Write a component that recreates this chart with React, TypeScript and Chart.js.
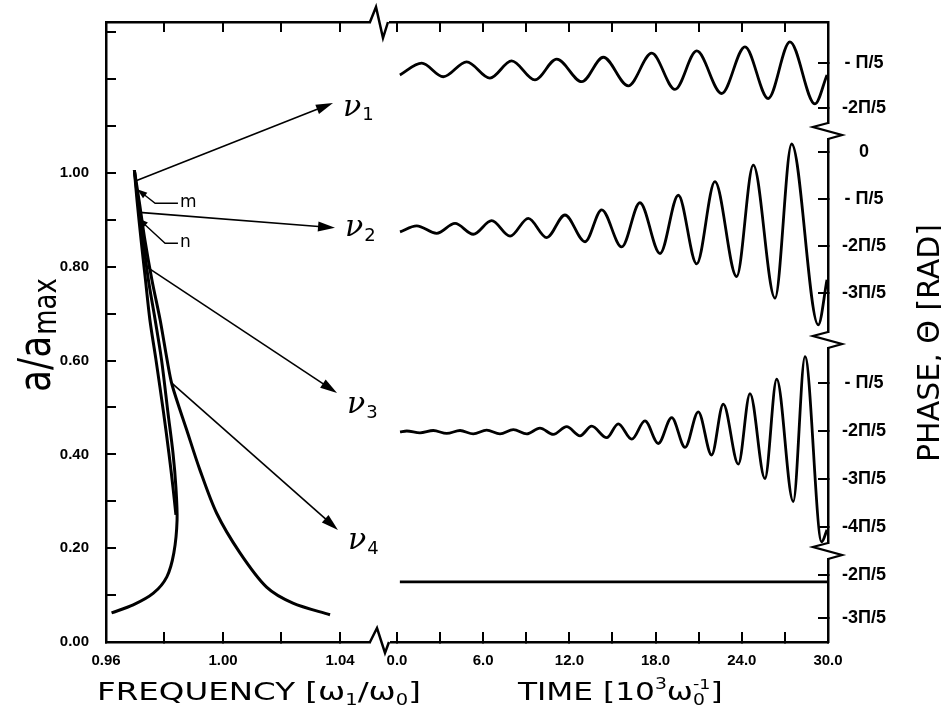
import React, { useEffect, useRef } from 'react';
import { Chart, registerables } from 'chart.js';

Chart.register(...registerables);

// ---------- Left panel: a/a_max versus frequency w1/w0 ----------
// outer (thick) branch, drawn from the low-amplitude end up to the peak
const branchFreq = [0.9619, 0.9693, 0.9762, 0.9808, 0.9832, 0.9843, 0.9839, 0.9829, 0.9812, 0.9790, 0.9768, 0.9745, 0.9727, 0.9709, 0.9697];
const branchAmp = [0.062, 0.079, 0.104, 0.139, 0.190, 0.260, 0.330, 0.403, 0.488, 0.601, 0.687, 0.772, 0.857, 0.942, 1.006];
// inner branch, from the peak down to the fold
const innerFreq = [0.9697, 0.9706, 0.9720, 0.9735, 0.9750, 0.9771, 0.9797, 0.9815, 0.9829, 0.9839];
const innerAmp = [1.006, 0.942, 0.857, 0.772, 0.687, 0.601, 0.488, 0.403, 0.330, 0.271];
// right branch, from the peak down to high frequency
const rightFreq = [0.9697, 0.9713, 0.9733, 0.9757, 0.9785, 0.9809, 0.9826, 0.9876, 0.9921, 0.9978, 1.0058, 1.0149, 1.0239, 1.0366];
const rightAmp = [1.006, 0.942, 0.857, 0.772, 0.687, 0.601, 0.548, 0.452, 0.367, 0.275, 0.190, 0.117, 0.083, 0.058];

// ---------- Right panel: phase theta (in units of PI/5) versus time (10^3 / w0) ----------
const time1 = [0.2, 1.72, 3.22, 4.85, 6.47, 7.98, 9.6, 11.12, 12.86, 14.36, 16.1, 17.73, 19.35, 20.86, 22.6, 24.22, 25.84, 27.35, 29.09, 29.93];
const phase1 = [-1.27, -1.01, -1.31, -0.98, -1.34, -0.96, -1.38, -0.92, -1.42, -0.88, -1.51, -0.79, -1.59, -0.74, -1.68, -0.65, -1.79, -0.54, -1.91, -1.27];

const time2 = [0.21, 1.37, 2.76, 4.04, 5.31, 6.59, 7.87, 9.14, 10.42, 11.69, 13.09, 14.25, 15.64, 16.91, 18.31, 19.58, 20.86, 22.13, 23.64, 24.8, 26.31, 27.47, 29.32, 29.93];
const phase2 = [-1.70, -1.57, -1.73, -1.52, -1.75, -1.46, -1.79, -1.41, -1.82, -1.34, -1.91, -1.23, -2.02, -1.08, -2.16, -0.92, -2.38, -0.63, -2.65, -0.28, -3.11, 0.17, -3.68, -2.72];

const time3 = [0.21, 0.68, 1.6, 2.53, 3.46, 4.39, 5.31, 6.24, 7.17, 8.1, 9.03, 9.95, 10.88, 11.81, 12.74, 13.55, 14.6, 15.4, 16.34, 17.26, 18.19, 19.12, 20.05, 20.97, 21.9, 22.71, 23.76, 24.57, 25.61, 26.43, 27.58, 28.4, 29.56, 29.93];
const phase3 = [-2.02, -2.0, -2.04, -1.99, -2.05, -1.99, -2.06, -1.98, -2.06, -1.97, -2.06, -1.94, -2.07, -1.91, -2.10, -1.90, -2.14, -1.85, -2.17, -1.79, -2.26, -1.72, -2.34, -1.60, -2.5, -1.44, -2.69, -1.22, -2.99, -0.92, -3.47, -0.45, -4.31, -4.06];

const time4 = [0.2, 29.95];
const phase4 = [-2.16, -2.16];

// ---------- Axis ticks and labels ----------
const freqTicks = [0.96, 0.98, 1.0, 1.02, 1.04];
const freqLabels = ['0.96', '', '1.00', '', '1.04'];
const timeTicks = [0, 3, 6, 9, 12, 15, 18, 21, 24, 27, 30];
const timeLabels = ['0.0', '', '6.0', '', '12.0', '', '18.0', '', '24.0', '', '30.0'];
const ampTicks = [0, 0.1, 0.2, 0.3, 0.4, 0.5, 0.6, 0.7, 0.8, 0.9, 1.0, 1.1, 1.2, 1.3];
const ampLabels = ['0.00', '', '0.20', '', '0.40', '', '0.60', '', '0.80', '', '1.00', '', '', ''];
const phaseTicks1 = [-1, -2];
const phaseLabels1 = ['- \u03A0/5', '-2\u03A0/5'];
const phaseTicks2 = [0, -1, -2, -3];
const phaseLabels2 = ['0', '- \u03A0/5', '-2\u03A0/5', '-3\u03A0/5'];
const phaseTicks3 = [-1, -2, -3, -4];
const phaseLabels3 = ['- \u03A0/5', '-2\u03A0/5', '-3\u03A0/5', '-4\u03A0/5'];
const phaseTicks4 = [-2, -3];
const phaseLabels4 = ['-2\u03A0/5', '-3\u03A0/5'];

// ---------- Annotations (in frequency / amplitude coordinates) ----------
const nuNames = ['1', '2', '3', '4'];
const nuFromFreq = [0.9705, 0.9714, 0.9739, 0.9825];
const nuFromAmp = [0.984, 0.916, 0.800, 0.552];
const nuToFreq = [1.0376, 1.0383, 1.0390, 1.0393];
const nuToAmp = [1.149, 0.883, 0.531, 0.239];
const nuLabelFreq = [1.0410, 1.0417, 1.0424, 1.0427];
const nuLabelAmp = [1.139, 0.883, 0.505, 0.215];
const mLeaderFreq = [0.9846, 0.9768, 0.9707];
const mLeaderAmp = [0.9354, 0.9354, 0.9652];
const nLeaderFreq = [0.9846, 0.9802, 0.9710];
const nLeaderAmp = [0.8501, 0.8501, 0.9034];
const mnLabels = ['m', 'n'];
const mnLabelFreq = [0.9853, 0.9853];
const mnLabelAmp = [0.9354, 0.8501];

type Seg = { t: string; s: number; dy?: number; stack?: boolean };

function drawRich(ctx: CanvasRenderingContext2D, segs: Seg[], fam: string) {
  let cx = 0;
  let prevStart = 0;
  let prevW = 0;
  for (const sg of segs) {
    ctx.font = `${sg.s}px ${fam}`;
    const w = ctx.measureText(sg.t).width;
    if (sg.stack) {
      ctx.fillText(sg.t, prevStart, sg.dy || 0);
      prevW = Math.max(prevW, w);
      cx = prevStart + prevW;
    } else {
      ctx.fillText(sg.t, cx, sg.dy || 0);
      prevStart = cx;
      prevW = w;
      cx += w;
    }
  }
}

function drawArrow(ctx: CanvasRenderingContext2D, pts: number[][], len: number, half: number, lw: number) {
  const n = pts.length;
  const [x1, y1] = pts[n - 2];
  const [x2, y2] = pts[n - 1];
  const ang = Math.atan2(y2 - y1, x2 - x1);
  const c = Math.cos(ang);
  const s = Math.sin(ang);
  ctx.lineWidth = lw;
  ctx.beginPath();
  pts.forEach((p, i) => {
    if (i === n - 1) ctx.lineTo(x2 - c * len * 0.6, y2 - s * len * 0.6);
    else if (i === 0) ctx.moveTo(p[0], p[1]);
    else ctx.lineTo(p[0], p[1]);
  });
  ctx.stroke();
  ctx.beginPath();
  ctx.moveTo(x2, y2);
  ctx.lineTo(x2 - c * len + s * half, y2 - s * len - c * half);
  ctx.lineTo(x2 - c * len - s * half, y2 - s * len + c * half);
  ctx.closePath();
  ctx.fill();
}

function zig(ctx: CanvasRenderingContext2D, pts: number[][], lw: number) {
  ctx.lineWidth = lw;
  ctx.lineJoin = 'miter';
  ctx.beginPath();
  pts.forEach((p, i) => (i ? ctx.lineTo(p[0], p[1]) : ctx.moveTo(p[0], p[1])));
  ctx.stroke();
}

const decorPlugin = {
  id: 'decor',
  afterDraw(chart: any) {
    const ctx: CanvasRenderingContext2D = chart.ctx;
    const sx = chart.scales.xf;
    const sy = chart.scales.y;
    const area = chart.chartArea;
    const X = (f: number) => sx.getPixelForValue(f);
    const Y = (a: number) => sy.getPixelForValue(a);
    ctx.save();
    ctx.fillStyle = '#000';
    ctx.strokeStyle = '#000';

    // nu arrows and labels
    for (let i = 0; i < nuNames.length; i++) {
      drawArrow(ctx, [[X(nuFromFreq[i]), Y(nuFromAmp[i])], [X(nuToFreq[i]), Y(nuToAmp[i])]], 17, 5, 1.6);
      const lx = X(nuLabelFreq[i]);
      const ly = Y(nuLabelAmp[i]);
      ctx.textBaseline = 'middle';
      ctx.textAlign = 'left';
      ctx.font = 'italic 30px "DejaVu Serif"';
      ctx.fillText('\u03BD', lx, ly);
      const w = ctx.measureText('\u03BD').width;
      ctx.font = '18px "DejaVu Sans"';
      ctx.fillText(nuNames[i], lx + w + 1, ly + 8);
    }

    // m / n leaders
    drawArrow(ctx, mLeaderFreq.map((f, i) => [X(f), Y(mLeaderAmp[i])]), 10, 3.5, 1.4);
    drawArrow(ctx, nLeaderFreq.map((f, i) => [X(f), Y(nLeaderAmp[i])]), 10, 3.5, 1.4);
    ctx.font = '17px "DejaVu Sans"';
    ctx.textBaseline = 'middle';
    mnLabels.forEach((t, i) => ctx.fillText(t, X(mnLabelFreq[i]), Y(mnLabelAmp[i]) - 1));

    // axis breaks between the two panels
    const bx = sx.right;
    ctx.fillStyle = '#fff';
    ctx.fillRect(bx - 10, area.bottom - 3, 19, 6);
    ctx.fillRect(bx - 10, area.top - 3, 18, 6);
    ctx.fillStyle = '#000';
    zig(ctx, [[bx - 11, area.bottom], [bx - 4, area.bottom - 14], [bx + 4, area.bottom + 11], [bx + 8, area.bottom]], 2.5);
    zig(ctx, [[bx - 11, area.top], [bx - 5, area.top - 15], [bx + 2, area.top + 16], [bx + 7, area.top]], 2.5);

    // breaks in the phase axis
    const xr = area.right;
    ['p1', 'p2', 'p3'].forEach((id) => {
      const yb = chart.scales[id].bottom;
      ctx.fillStyle = '#fff';
      ctx.fillRect(xr - 2, yb - 7, 4, 14);
      ctx.fillStyle = '#000';
      zig(ctx, [[xr, yb - 8], [xr - 15, yb - 4], [xr + 14, yb + 4], [xr, yb + 8]], 2.3);
    });

    // y axis title a/a_max
    ctx.textAlign = 'left';
    ctx.textBaseline = 'alphabetic';
    ctx.save();
    ctx.translate(50, 392);
    ctx.rotate(-Math.PI / 2);
    ctx.scale(1, 1.25);
    ctx.font = '36px "DejaVu Sans"';
    ctx.fillText('a/a', 0, 0);
    const aw = ctx.measureText('a/a').width;
    ctx.font = '26px "DejaVu Sans"';
    ctx.fillText('max', aw + 1, 4.8);
    ctx.restore();

    // bottom titles
    const fam = '"DejaVu Sans"';
    ctx.save();
    ctx.translate(97, 700);
    ctx.scale(1.3, 1);
    drawRich(ctx, [
      { t: 'FREQUENCY [\u03C9', s: 25 },
      { t: '1', s: 15, dy: 5 },
      { t: '/\u03C9', s: 25 },
      { t: '0', s: 15, dy: 5 },
      { t: ']', s: 25 },
    ], fam);
    ctx.restore();

    ctx.save();
    ctx.translate(518, 700);
    ctx.scale(1.25, 1);
    drawRich(ctx, [
      { t: 'TIME [10', s: 25 },
      { t: '3', s: 15, dy: -11 },
      { t: '\u03C9', s: 25 },
      { t: '-1', s: 14, dy: -11 },
      { t: '0', s: 15, dy: 5, stack: true },
      { t: ']', s: 25 },
    ], fam);
    ctx.restore();

    // right title
    ctx.save();
    ctx.translate(939, 462);
    ctx.rotate(-Math.PI / 2);
    ctx.font = '30px "DejaVu Sans"';
    ctx.fillText('PHASE, \u0398 [RAD]', 0, 0);
    ctx.restore();

    ctx.restore();
  },
};

const tickFont = { family: 'Liberation Sans', size: 15, weight: 'bold' as const };
const gridOpts = () => ({ display: true, drawOnChartArea: false, drawTicks: true, tickLength: -10, color: '#000', lineWidth: 2 });
const borderOpts = () => ({ display: true, color: '#000', width: 2.5 });
const fixTicks = (values: number[]) => (scale: any) => {
  scale.ticks = values.map((v) => ({ value: v }));
};
const noPad = (s: any) => {
  s.paddingTop = 0;
  s.paddingBottom = 0;
  s.paddingLeft = 0;
  s.paddingRight = 0;
};

function xAxis(pos: string, min: number, max: number, ticks: number[], labels: string[] | null, weightPx: number, w: number) {
  return {
    type: 'linear',
    axis: 'x',
    position: pos,
    min,
    max,
    weight: w,
    stack: pos + 'Stack',
    stackWeight: weightPx,
    offset: false,
    grid: gridOpts(),
    border: borderOpts(),
    afterBuildTicks: fixTicks(ticks),
    afterFit: (s: any) => {
      s.height = pos === 'bottom' ? 71 : 22;
      noPad(s);
    },
    ticks: {
      display: !!labels,
      color: '#000',
      font: tickFont,
      autoSkip: false,
      maxRotation: 0,
      minRotation: 0,
      padding: 20,
      callback: (_v: number, i: number) => (labels ? labels[i] : ''),
    },
  };
}

function phaseAxis(min: number, max: number, ticks: number[], labels: string[], weightPx: number) {
  return {
    type: 'linear',
    axis: 'y',
    position: 'right',
    min,
    max,
    stack: 'phase',
    stackWeight: weightPx,
    offset: false,
    grid: gridOpts(),
    border: borderOpts(),
    afterBuildTicks: fixTicks(ticks),
    afterFit: (s: any) => {
      s.width = 113;
      noPad(s);
    },
    ticks: {
      color: '#000',
      font: { family: 'Liberation Sans', size: 18, weight: 'bold' as const },
      autoSkip: false,
      crossAlign: 'center',
      padding: 24,
      callback: (_v: number, i: number) => labels[i],
    },
  };
}

const pts = (xs: number[], ys: number[]) => xs.map((x, i) => ({ x, y: ys[i] }));

export default function App() {
  const ref = useRef<HTMLCanvasElement>(null);
  useEffect(() => {
    if (!ref.current) return;
    Chart.defaults.font.family = 'DejaVu Sans';
    const curve = { borderColor: '#000', pointRadius: 0, fill: false, xAxisID: 'xf', yAxisID: 'y', borderWidth: 3, tension: 0.3 };
    const wave = { borderColor: '#000', pointRadius: 0, fill: false, xAxisID: 'xt', borderWidth: 2.8, cubicInterpolationMode: 'monotone' };
    const chart = new Chart(ref.current, {
      type: 'line',
      data: {
        datasets: [
          { ...curve, data: pts(branchFreq, branchAmp) },
          { ...curve, data: pts(innerFreq, innerAmp) },
          { ...curve, data: pts(rightFreq, rightAmp) },
          { ...wave, yAxisID: 'p1', data: pts(time1, phase1) },
          { ...wave, yAxisID: 'p2', data: pts(time2, phase2) },
          { ...wave, yAxisID: 'p3', data: pts(time3, phase3) },
          { ...wave, yAxisID: 'p4', data: pts(time4, phase4) },
        ] as any,
      },
      options: {
        animation: false,
        responsive: true,
        maintainAspectRatio: false,
        devicePixelRatio: 1,
        events: [],
        layout: { padding: 0, autoPadding: false },
        plugins: { legend: { display: false }, tooltip: { enabled: false }, title: { display: false } },
        scales: {
          xf: xAxis('bottom', 0.96, 1.05402, freqTicks, freqLabels, 275, 0),
          xt: xAxis('bottom', -1.113, 30, timeTicks, timeLabels, 447, 0),
          xfTop: xAxis('top', 0.96, 1.05402, freqTicks, null, 275, 1),
          xtTop: xAxis('top', -1.113, 30, timeTicks, null, 447, 0),
          y: {
            type: 'linear',
            axis: 'y',
            position: 'left',
            min: 0,
            max: 1.32196,
            offset: false,
            grid: gridOpts(),
            border: borderOpts(),
            afterBuildTicks: fixTicks(ampTicks),
            afterFit: (s: any) => {
              s.width = 106;
              noPad(s);
            },
            ticks: {
              color: '#000',
              font: tickFont,
              autoSkip: false,
              padding: 27,
              callback: (_v: number, i: number) => ampLabels[i],
            },
          },
          p1: phaseAxis(-2.508, -0.1015, phaseTicks1, phaseLabels1, 109),
          p2: phaseAxis(-4.0, 0.447, phaseTicks2, phaseLabels2, 209),
          p3: phaseAxis(-4.5, -0.104, phaseTicks3, phaseLabels3, 211),
          p4: phaseAxis(-3.558, -1.442, phaseTicks4, phaseLabels4, 91),
        } as any,
      },
      plugins: [decorPlugin],
    });
    return () => chart.destroy();
  }, []);
  return (
    <div style={{ position: 'absolute', left: 0, top: 0, width: 941, height: 713 }}>
      <canvas ref={ref} />
    </div>
  );
}
